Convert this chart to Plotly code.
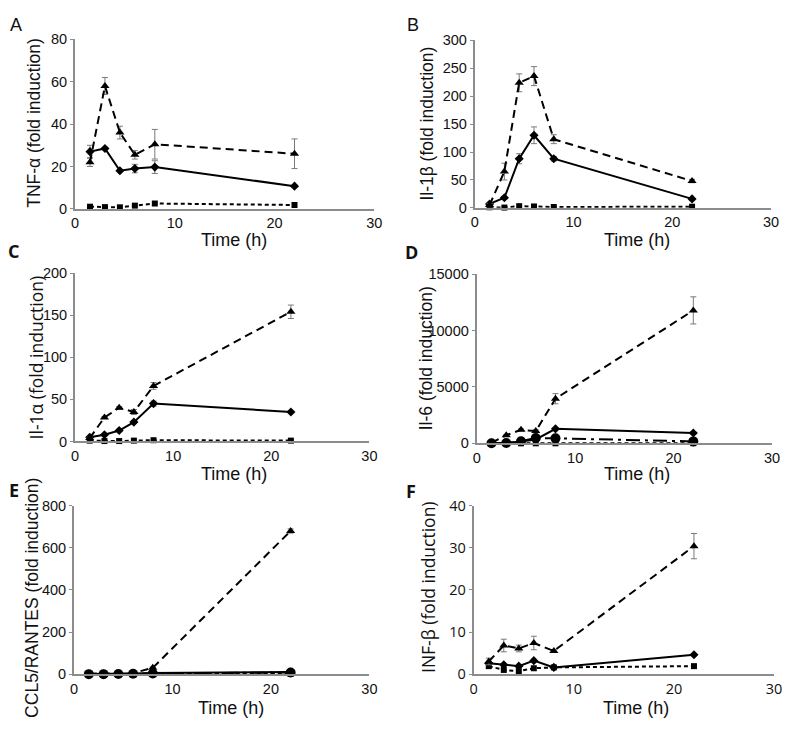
import plotly.graph_objects as go

# The page body has an 8px default margin on every side: the figure is sized so
# the page exactly fills the 793x733 window and positions are given in page px.
OFF = 8
PAGE_W, PAGE_H = 793, 733
W, H = PAGE_W - 2 * OFF, PAGE_H - 2 * OFF
time_h = [1.5, 3, 4.5, 6, 8, 22]

# ---- Panel A: TNF-alpha ----
tnf_tri = [22, 58, 36, 25.5, 30.5, 26]
tnf_tri_err = [2, 4, 3, 2, 7, 7]
tnf_dia = [27, 28.5, 18, 19, 19.7, 10.7]
tnf_dia_err = [3, 0.5, 0.5, 2, 3, 0.5]
tnf_sq = [1, 0.8, 0.7, 1.5, 2.5, 1.8]

# ---- Panel B: Il-1beta ----
il1b_tri = [5, 65, 224, 236, 123, 48]
il1b_tri_err = [3, 15, 16, 17, 8, 3]
il1b_dia = [7, 18, 88, 130, 88, 16]
il1b_dia_err = [2, 2, 9, 15, 4, 2]
il1b_sq = [1, 0.5, 3, 2.5, 1.5, 2]

# ---- Panel C: Il-1alpha ----
il1a_tri = [4, 28.5, 40, 35, 66, 154]
il1a_tri_err = [1, 1, 1.5, 3, 4, 8]
il1a_dia = [5, 8, 13, 23, 45, 35]
il1a_dia_err = [1, 1, 1, 1.5, 3, 1]
il1a_sq = [1, 0.5, 0.5, 1, 1.5, 1]

# ---- Panel D: Il-6 ----
il6_tri = [60, 720, 1200, 1090, 3960, 11780]
il6_tri_err = [20, 50, 80, 100, 450, 1200]
il6_dia = [30, 50, 180, 350, 1290, 920]
il6_circ = [10, 30, 200, 480, 450, 180]
il6_sq = [5, 5, 10, 10, 10, 20]

# ---- Panel E: CCL5/RANTES ----
ccl5_tri = [2, 2, 3, 5, 30, 680]
ccl5_tri_err = [0.5, 0.5, 0.5, 1, 3, 10]
ccl5_dia = [1, 1, 2, 3, 5, 10]
ccl5_circ = [0, 0, 1, 2, 3, 8]
ccl5_sq = [0, 0, 0, 0, 0, 1]

# ---- Panel F: INF-beta ----
infb_tri = [3, 6.8, 6.1, 7.4, 5.5, 30.4]
infb_tri_err = [0.8, 1.5, 0.8, 1.6, 0.3, 3]
infb_dia = [2.6, 2.2, 1.9, 3.2, 1.6, 4.6]
infb_sq = [1.9, 1.0, 0.7, 1.4, 1.6, 1.9]

x_ticks = [0, 10, 20, 30]

BLACK = "#000000"
GRAY = "#8c8c8c"
ERRC = "#7a7a7a"
DASH = "8px,5px"
SHORT = "4px,3px"
DASHDOT = "14px,5px,3px,5px"

panels = [
    dict(key="1", px=(72, 376), py=(30, 204), ymax=80, dtick=20,
         title="TNF-α (fold induction)", tpos=(30, 116), tfont="Liberation Sans",
         tickfont="Liberation Sans", xt=(233, 236), letter="A", lpos=(12, 15), lbold=False),
    dict(key="2", px=(478, 779), py=(31, 203), ymax=300, dtick=50,
         title="Il-1β (fold induction)", tpos=(430, 116), tfont="Liberation Sans",
         tickfont="Liberation Sans", xt=(643, 236), letter="B", lpos=(415, 15), lbold=False),
    dict(key="3", px=(72, 371), py=(270, 443), ymax=200, dtick=50,
         title="Il-1α (fold induction)", tpos=(32, 357), tfont="Open Sans",
         tickfont="Liberation Sans", xt=(233, 476), letter="C", lpos=(10, 247), lbold=True),
    dict(key="4", px=(480, 780), py=(271, 445), ymax=15000, dtick=5000,
         title="Il-6 (fold induction)", tpos=(428, 358), tfont="Liberation Sans",
         tickfont="Liberation Sans", xt=(643, 476), letter="D", lpos=(414, 248), lbold=True),
    dict(key="5", px=(71, 371), py=(509, 682), ymax=800, dtick=200,
         title="CCL5/RANTES (fold induction)", tpos=(29, 604), tfont="Liberation Sans",
         tickfont="Liberation Sans", xt=(230, 717), letter="E", lpos=(10, 493), lbold=True),
    dict(key="6", px=(477, 782), py=(509, 682), ymax=40, dtick=10,
         title="INF-β (fold induction)", tpos=(430, 592), tfont="Open Sans",
         tickfont="Open Sans", xt=(642, 717), letter="F", lpos=(413, 494), lbold=True),
]


def fx(px):
    return (px - OFF) / W


def fy(py):
    return 1 - (py - OFF) / H


fig = go.Figure()


def add(key, y, dash, symbol, size, err=None):
    xa = "x" if key == "1" else "x" + key
    ya = "y" if key == "1" else "y" + key
    kw = {}
    if err is not None:
        kw["error_y"] = dict(type="data", array=err, color=ERRC, thickness=1, width=3)
    fig.add_trace(go.Scatter(
        x=time_h, y=y, xaxis=xa, yaxis=ya, mode="lines+markers",
        line=dict(color=BLACK, width=2, dash=dash),
        marker=dict(symbol=symbol, size=size, color=BLACK),
        showlegend=False, cliponaxis=False, **kw))


# A
add("1", tnf_sq, SHORT, "square", 6)
add("1", tnf_dia, "solid", "diamond", 7, tnf_dia_err)
add("1", tnf_tri, DASH, "triangle-up", 8, tnf_tri_err)
# B
add("2", il1b_sq, SHORT, "square", 6)
add("2", il1b_dia, "solid", "diamond", 7, il1b_dia_err)
add("2", il1b_tri, DASH, "triangle-up", 8, il1b_tri_err)
# C
add("3", il1a_sq, SHORT, "square", 6)
add("3", il1a_dia, "solid", "diamond", 7, il1a_dia_err)
add("3", il1a_tri, DASH, "triangle-up", 8, il1a_tri_err)
# D
add("4", il6_sq, SHORT, "square", 6)
add("4", il6_circ, DASHDOT, "circle", 10)
add("4", il6_dia, "solid", "diamond", 7)
add("4", il6_tri, DASH, "triangle-up", 8, il6_tri_err)
# E
add("5", ccl5_sq, SHORT, "square", 6)
add("5", ccl5_tri, DASH, "triangle-up", 8, ccl5_tri_err)
add("5", ccl5_dia, "solid", "diamond", 7)
add("5", ccl5_circ, DASHDOT, "circle", 10)
# F
add("6", infb_sq, SHORT, "square", 6)
add("6", infb_dia, "solid", "diamond", 7)
add("6", infb_tri, DASH, "triangle-up", 8, infb_tri_err)

layout = dict(
    width=W, height=H, autosize=False,
    margin=dict(l=0, r=0, t=0, b=0),
    paper_bgcolor="white", plot_bgcolor="white",
    showlegend=False,
)
annotations = []
for p in panels:
    k = p["key"]
    xn = "xaxis" if k == "1" else "xaxis" + k
    yn = "yaxis" if k == "1" else "yaxis" + k
    xr = "x" if k == "1" else "x" + k
    yr = "y" if k == "1" else "y" + k
    layout[xn] = dict(
        domain=[fx(p["px"][0]), fx(p["px"][1])], anchor=yr,
        range=[0, 30], tickvals=x_ticks, ticktext=[str(v) for v in x_ticks],
        showgrid=False, zeroline=False, showline=True, linecolor=GRAY, linewidth=2,
        ticks="", 
        tickfont=dict(family=p["tickfont"], size=14.5, color="#111"),
    )
    yt = list(range(0, p["ymax"] + 1, p["dtick"]))
    layout[yn] = dict(
        domain=[fy(p["py"][1]), fy(p["py"][0])], anchor=xr,
        range=[0, p["ymax"]], tickvals=yt, ticktext=[str(v) for v in yt],
        showgrid=False, zeroline=False, showline=True, linecolor=GRAY, linewidth=2,
        ticks="outside", ticklen=3, tickcolor=GRAY, tickwidth=1,
        tickfont=dict(family=p["tickfont"], size=14.5, color="#111"),
    )
    annotations.append(dict(
        text=p["title"], x=fx(p["tpos"][0]), y=fy(p["tpos"][1]),
        xref="paper", yref="paper", textangle=-90, showarrow=False,
        xanchor="center", yanchor="middle",
        font=dict(family=p["tfont"], size=17.5, color="#111")))
    annotations.append(dict(
        text="Time (h)", x=fx(p["xt"][0]), y=fy(p["xt"][1]),
        xref="paper", yref="paper", showarrow=False,
        xanchor="center", yanchor="middle",
        font=dict(family="Liberation Sans", size=18, color="#111")))
    lt = "<b>%s</b>" % p["letter"] if p["lbold"] else p["letter"]
    annotations.append(dict(
        text=lt, x=fx(p["lpos"][0]), y=fy(p["lpos"][1]),
        xref="paper", yref="paper", showarrow=False,
        xanchor="center", yanchor="middle",
        font=dict(family="Open Sans" if p["lbold"] else "Liberation Sans",
                  size=18, color="#111")))
layout["annotations"] = annotations

fig.update_layout(**layout)
fig.write_html("out.html")
